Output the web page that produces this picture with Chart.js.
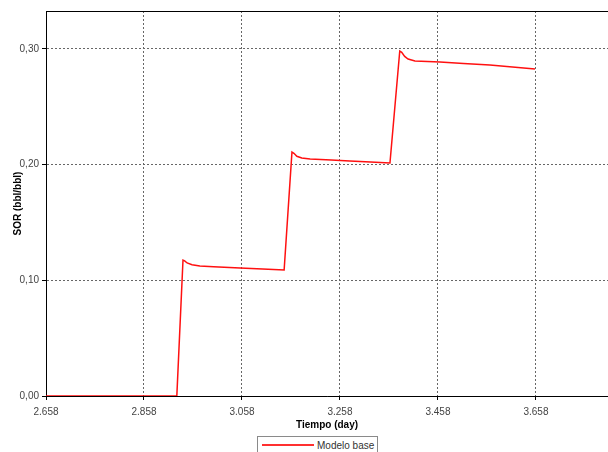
<!DOCTYPE html>
<html>
<head>
<meta charset="utf-8">
<script src="https://cdn.jsdelivr.net/npm/chart.js@4"></script>
<style>
  body { margin: 0; background: #fff; }
  #wrap { position: relative; width: 608px; height: 452px; overflow: hidden; }
  canvas { display: block; }
  #legend {
    position: absolute; left: 257px; top: 436px; width: 121px; height: 18px;
    border: 1px solid #8a8a8a; box-sizing: border-box; background: #fff;
    font: 10px "Liberation Sans", Arial, sans-serif; color: #333; white-space: nowrap;
  }
  #legend .swatch { position: absolute; left: 4px; top: 7px; width: 52px; height: 2px; background: #ff3030; }
  #legend .label { position: absolute; left: 59px; top: 3px; }
</style>
</head>
<body>
<div id="wrap">
  <canvas id="sorChart" width="608" height="452"></canvas>
  <div id="legend"><span class="swatch"></span><span class="label">Modelo base</span></div>
</div>
<script>
// Tiempo (day) vs SOR (bbl/bbl)
const days = [2.658, 2.925, 2.9376, 2.941, 2.946, 2.956, 2.972, 3.000, 3.054, 3.100, 3.144,
  3.160, 3.164, 3.170, 3.180, 3.197, 3.240, 3.278, 3.320, 3.360,
  3.380, 3.384, 3.390, 3.397, 3.411, 3.462, 3.510, 3.564, 3.656];
const sor = [0, 0, 0.1175, 0.1168, 0.1150, 0.1135, 0.1124, 0.1118, 0.1106, 0.1097, 0.1089,
  0.2109, 0.2098, 0.2072, 0.2057, 0.2048, 0.2039, 0.2031, 0.2022, 0.2014,
  0.2982, 0.2970, 0.2935, 0.2913, 0.2895, 0.2887, 0.2874, 0.2861, 0.2826];

const xTicks = [2.658, 2.858, 3.058, 3.258, 3.458, 3.658];
const yTicks = [0, 0.1, 0.2, 0.3];
const seriesName = "Modelo base";

const tickFont = { family: "'Liberation Sans', Arial, sans-serif", size: 10 };
const titleFont = { family: "'Liberation Sans', Arial, sans-serif", size: 10, weight: "bold" };

// top border of the plot area
const topBorder = {
  id: "topBorder",
  afterDraw(chart) {
    const { ctx, chartArea } = chart;
    ctx.save();
    ctx.strokeStyle = "#000";
    ctx.lineWidth = 1;
    ctx.beginPath();
    ctx.moveTo(chartArea.left, chartArea.top + 0.5);
    ctx.lineTo(chartArea.right, chartArea.top + 0.5);
    ctx.stroke();
    ctx.restore();
  },
};

new Chart(document.getElementById("sorChart"), {
  type: "line",
  data: {
    datasets: [
      {
        label: seriesName,
        data: days.map((d, i) => ({ x: d, y: sor[i] })),
        borderColor: "#ff1010",
        borderWidth: 1.5,
        pointRadius: 0,
        tension: 0,
        fill: false,
      },
    ],
  },
  options: {
    responsive: false,
    animation: false,
    layout: { padding: { top: 11, right: 0, bottom: 16, left: 0 } },
    plugins: { legend: { display: false }, tooltip: { enabled: false } },
    scales: {
      x: {
        type: "linear",
        min: 2.658,
        max: 3.805,
        afterBuildTicks: (scale) => { scale.ticks = xTicks.map((v) => ({ value: v })); },
        afterFit: (scale) => { scale.height = 40; },
        ticks: {
          font: tickFont, color: "#444", padding: 6, maxRotation: 0,
          callback: (v) => v.toFixed(3),
        },
        grid: { color: "#666", tickColor: "#000", tickLength: 4, tickBorderDash: [] },
        border: { display: true, color: "#000", width: 1, dash: [2, 2] },
        title: { display: true, text: "Tiempo (day)", font: titleFont, color: "#000", padding: { top: 0, bottom: 5 } },
      },
      y: {
        min: 0,
        max: 0.3328,
        afterBuildTicks: (scale) => { scale.ticks = yTicks.map((v) => ({ value: v })); },
        afterFit: (scale) => { scale.width = 46; },
        ticks: {
          font: tickFont, color: "#444", padding: 3,
          callback: (v) => v.toFixed(2).replace(".", ","),
        },
        grid: { color: "#666", tickColor: "#000", tickLength: 4, tickBorderDash: [] },
        border: { display: true, color: "#000", width: 1, dash: [2, 2] },
        title: { display: true, text: "SOR (bbl/bbl)", font: titleFont, color: "#000", padding: { top: 12, bottom: 0 } },
      },
    },
  },
  plugins: [topBorder],
});
</script>
</body>
</html>
